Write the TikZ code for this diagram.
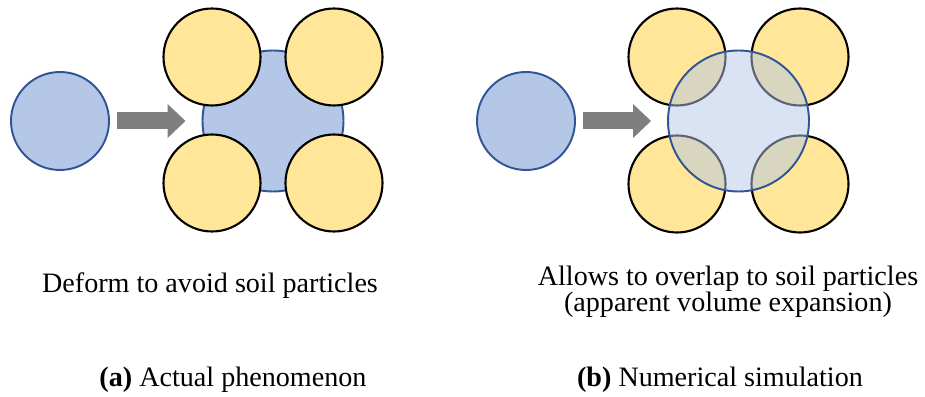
\documentclass[tikz,border=0pt]{standalone}
\usepackage{fontspec}
\setmainfont{Liberation Serif}
\usetikzlibrary{arrows.meta}

\definecolor{grainfill}{HTML}{FFE699}
\definecolor{dropfill}{HTML}{B4C7E7}
\definecolor{dropline}{HTML}{2F5597}
\definecolor{pushgray}{HTML}{7F7F7F}

\begin{document}
\begin{tikzpicture}[grain/.style={circle, draw=black, line width=1.2pt, fill=grainfill, minimum size=1.94cm, inner sep=0pt},
  drop/.style={circle, draw=dropline, line width=1.1pt, fill=dropfill, inner sep=0pt},
  push/.style={draw=pushgray, line width=0.34cm, -{Triangle[length=0.36cm, width=0.66cm]}},
  caption/.style={anchor=base, inner sep=0pt, font=\fontsize{16}{14.7}\selectfont}]
\path[use as bounding box] (0,0) rectangle (18.5,7.94);
% (a) actual phenomenon
\node[drop, minimum size=1.96cm] (A0) at (1.2,5.52) {};
\node[drop, minimum size=2.82cm] (A1) at (5.46,5.52) {};
\node[grain] (Ga1) at (4.24,6.8) {};
\node[grain] (Ga2) at (6.68,6.8) {};
\node[grain] (Ga3) at (4.24,4.28) {};
\node[grain] (Ga4) at (6.68,4.28) {};
\draw[push, shorten <=0.14cm, shorten >=0.32cm] (A0) -- (A1);
% (b) numerical simulation
\node[drop, minimum size=1.96cm] (B0) at (10.52,5.52) {};
\node[grain] (Gb1) at (13.54,6.8) {};
\node[grain] (Gb2) at (16.0,6.8) {};
\node[grain] (Gb3) at (13.54,4.26) {};
\node[grain] (Gb4) at (16.0,4.26) {};
\node[drop, fill opacity=0.5, minimum size=2.82cm] (B1) at (14.77,5.52) {};
\draw[push, shorten <=0.14cm, shorten >=0.32cm] (B0) -- (B1);
% texts
\node[caption] (Ta) at (4.2,2.08) {Deform to avoid soil particles};
\node[caption, anchor=north, align=center] (Tb) at (14.56,2.62) {Allows to overlap to soil particles\\(apparent volume expansion)};
\node[caption] (Ca) at (4.66,0.2) {\textbf{(a)} Actual phenomenon};
\node[caption] (Cb) at (14.4,0.2) {\textbf{(b)} Numerical simulation};
\end{tikzpicture}
\end{document}
